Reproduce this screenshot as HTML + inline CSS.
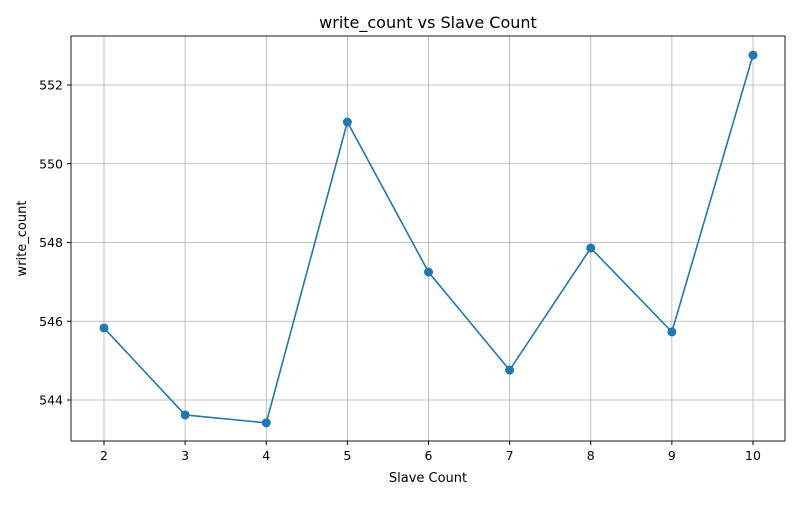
<!DOCTYPE html>
<html><head><meta charset="utf-8"><style>
body{margin:0;background:#fff;font-family:"Liberation Sans","DejaVu Sans",sans-serif;}
svg text{font-family:"DejaVu Sans","Liberation Sans",sans-serif;}
</style></head><body>
<svg id="chart" width="800" height="500" xmlns="http://www.w3.org/2000/svg"></svg>
<script>
const categories=[2,3,4,5,6,7,8,9,10];
const writeCount=[545.83,543.62,543.42,551.06,547.25,544.76,547.86,545.73,552.76];
const xTicks=[2,3,4,5,6,7,8,9,10];
const yTicks=[544,546,548,550,552];
const L=71,R=785,T=36,B=441;
const xs=v=>104+(v-2)*(753-104)/8;
const ys=v=>400-(v-544)*(400-85)/8;
const svg=document.getElementById('chart');
const NS='http://www.w3.org/2000/svg';
function mk(t,a,p){const e=document.createElementNS(NS,t);for(const k in a)e.setAttribute(k,a[k]);(p||svg).appendChild(e);return e;}
const grid=mk('g',{});


xTicks.forEach(v=>{const l=mk('line',{x1:xs(v),x2:xs(v),y1:T,y2:B,stroke:'#b0b0b0','stroke-width':0.8},grid);

});
yTicks.forEach(v=>{const l=mk('line',{x1:L,x2:R,y1:ys(v),y2:ys(v),stroke:'#b0b0b0','stroke-width':0.8},grid);

});
const xa=mk('g',{});


xTicks.forEach(v=>{mk('line',{x1:xs(v),x2:xs(v),y1:B,y2:B+4,stroke:'#000'},xa);
const t=mk('text',{x:xs(v),y:B+19,'text-anchor':'middle','font-size':12.5},xa);t.textContent=v;

});
const ya=mk('g',{});


yTicks.forEach(v=>{mk('line',{x1:L-4,x2:L,y1:ys(v),y2:ys(v),stroke:'#000'},ya);
const t=mk('text',{x:L-8,y:ys(v)+4.5,'text-anchor':'end','font-size':12.5},ya);t.textContent=v;

});
const fr=mk('rect',{x:L,y:T,width:R-L,height:B-T,fill:'none',stroke:'#000','stroke-width':0.9});


const pl=mk('polyline',{points:categories.map((c,i)=>xs(c)+','+ys(writeCount[i])).join(' '),fill:'none',stroke:'#1f77b4','stroke-width':1.6});


categories.forEach((c,i)=>{const p=mk('circle',{cx:xs(c),cy:ys(writeCount[i]),r:4.5,fill:'#1f77b4'});

});
let t=mk('text',{x:(L+R)/2,y:28,'text-anchor':'middle','font-size':16});t.textContent='write_count vs Slave Count';


t=mk('text',{x:(L+R)/2,y:482,'text-anchor':'middle','font-size':13});t.textContent='Slave Count';


t=mk('text',{x:0,y:0,'text-anchor':'middle','font-size':13,transform:'translate(26,'+(T+B)/2+') rotate(-90)'});t.textContent='write_count';


</script>
</body></html>
